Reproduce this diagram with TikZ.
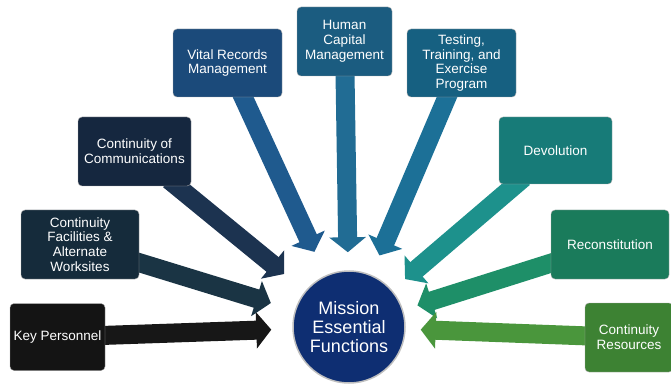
\documentclass[tikz,border=0pt]{standalone}
\usepackage{fontspec}
\setmainfont{Liberation Sans}
\usetikzlibrary{arrows.meta,backgrounds}
\definecolor{kpcol}{HTML}{141414}
\definecolor{cfacol}{HTML}{152B3B}
\definecolor{coccol}{HTML}{15273F}
\definecolor{vrmcol}{HTML}{1B4A7A}
\definecolor{hcmcol}{HTML}{1B5C80}
\definecolor{ttecol}{HTML}{166081}
\definecolor{devcol}{HTML}{177B78}
\definecolor{reccol}{HTML}{1A7B5B}
\definecolor{crcol}{HTML}{3D8233}
\definecolor{mefcol}{HTML}{0E2E72}
% arrow colours, a shade lighter than the boxes
\definecolor{kparr}{HTML}{171717}
\definecolor{cfaarr}{HTML}{1A3444}
\definecolor{cocarr}{HTML}{1C3350}
\definecolor{vrmarr}{HTML}{1F5A8E}
\definecolor{hcmarr}{HTML}{216C94}
\definecolor{ttearr}{HTML}{1C7097}
\definecolor{devarr}{HTML}{1D918C}
\definecolor{recarr}{HTML}{1E8F68}
\definecolor{crarr}{HTML}{4A963C}
\begin{document}
\begin{tikzpicture}[x=1pt,y=-1pt]
            \tikzstyle{box}=[rectangle, rounded corners=4pt, text=white, align=center, inner sep=2pt, draw=black!35, line width=0.4pt, font=\fontsize{13.5}{14.8}\selectfont]
            \tikzstyle{flow}=[line width=19pt, shorten <=-10pt, -{Triangle[width=36pt,length=15pt]}]
            \useasboundingbox (0,0) rectangle (671,387);
            \node[circle, fill=mefcol, draw=black!25, line width=1.5pt, minimum size=112pt, text=white, align=center, font=\fontsize{18}{19}\selectfont] (mef) at (349,327) {Mission\\Essential\\Functions};
            \node[box, fill=kpcol, minimum width=95pt, minimum height=67pt] (kp) at (57.5,337) {Key Personnel};
            \node[box, fill=cfacol, minimum width=118pt, minimum height=69pt] (cfa) at (80,244.5) {Continuity\\Facilities \&\\Alternate\\Worksites};
            \node[box, fill=coccol, minimum width=113pt, minimum height=69pt] (coc) at (134.5,151.5) {Continuity of\\Communications};
            \node[box, fill=vrmcol, minimum width=109pt, minimum height=68pt] (vrm) at (227.5,63) {Vital Records\\Management};
            \node[box, fill=hcmcol, minimum width=95pt, minimum height=69pt] (hcm) at (344.5,41.5) {Human\\Capital\\Management};
            \node[box, fill=ttecol, minimum width=109pt, minimum height=68pt] (tte) at (461.5,63) {Testing,\\Training, and\\Exercise\\Program};
            \node[box, fill=devcol, minimum width=113pt, minimum height=67pt] (dev) at (555.5,150.5) {Devolution};
            \node[box, fill=reccol, minimum width=118pt, minimum height=69pt] (rec) at (610,244.5) {Reconstitution};
            \node[box, fill=crcol, minimum width=88pt, minimum height=69pt] (cr) at (629,337.5) {Continuity\\Resources};
            \begin{pgfonlayer}{background}
            \path (kp) edge[flow, draw=kparr, shorten >=21pt] (mef);
            \path (cfa) edge[flow, draw=cfaarr, shorten >=25pt] (mef);
            \path (coc) edge[flow, draw=cocarr, shorten >=27pt] (mef);
            \path (vrm) edge[flow, draw=vrmarr, shorten >=26pt] (mef);
            \path (hcm) edge[flow, draw=hcmarr, shorten >=18pt] (mef);
            \path (tte) edge[flow, draw=ttearr, shorten >=21pt] (mef);
            \path (dev) edge[flow, draw=devarr, shorten >=17pt] (mef);
            \path (rec) edge[flow, draw=recarr, shorten >=15pt] (mef);
            \path (cr) edge[flow, draw=crarr, shorten >=15pt] (mef);
            \end{pgfonlayer}
\end{tikzpicture}
\end{document}
